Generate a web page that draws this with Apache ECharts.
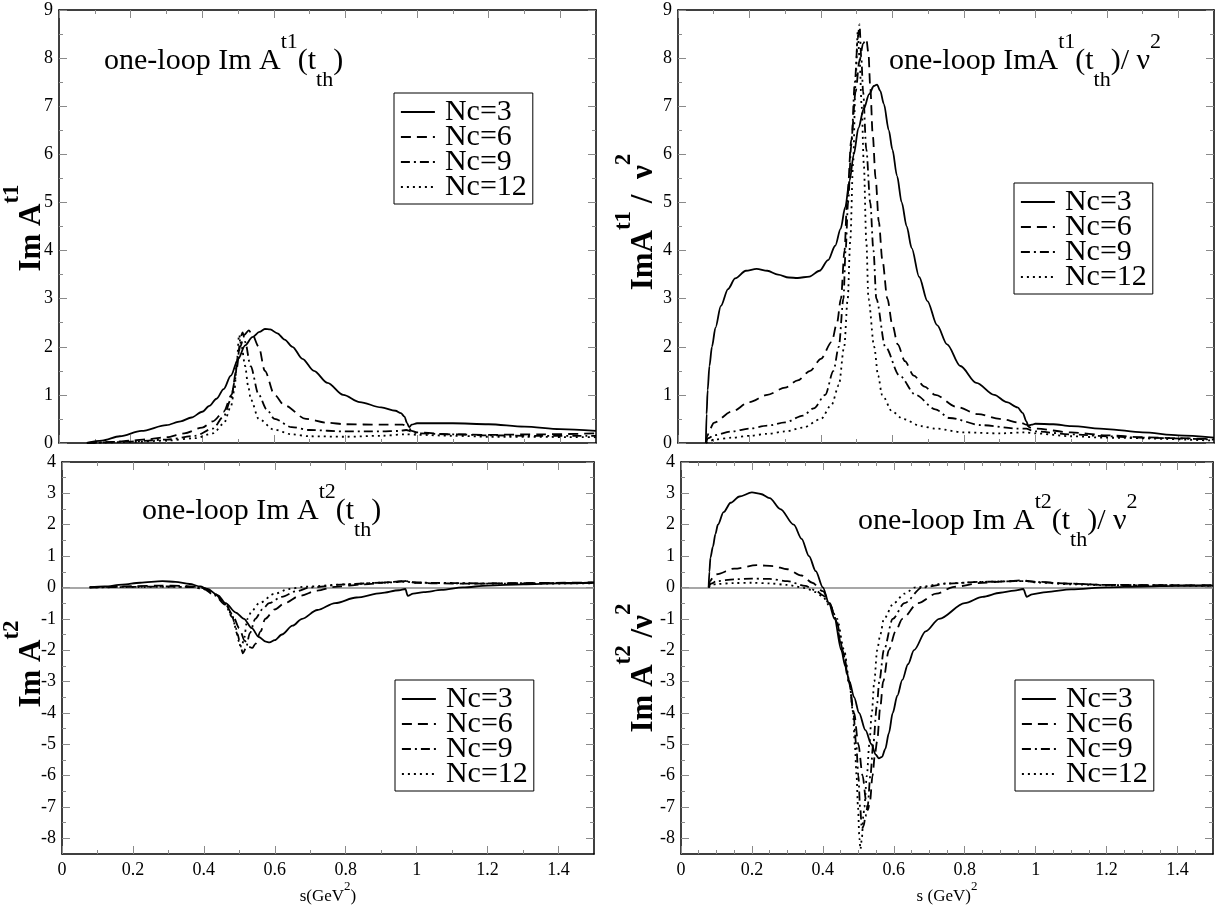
<!DOCTYPE html>
<html><head><meta charset="utf-8">
<script src="https://cdn.jsdelivr.net/npm/echarts@6/dist/echarts.min.js"></script>
<style>html,body{margin:0;padding:0;background:#fff}#c{width:1216px;height:905px}</style>
</head><body><div id="c"></div>
<script>
// ---------- data ----------
const seriesNames = ['Nc=3', 'Nc=6', 'Nc=9', 'Nc=12'];
const xTicks = [0, 0.2, 0.4, 0.6, 0.8, 1, 1.2, 1.4];
const xMinor10 = [0.1, 0.3, 0.5, 0.7, 0.9, 1.1, 1.3];
const xMinor05 = [0.05, 0.1, 0.15, 0.25, 0.3, 0.35, 0.45, 0.5, 0.55, 0.65, 0.7, 0.75, 0.85, 0.9, 0.95, 1.05, 1.1, 1.15, 1.25, 1.3, 1.35, 1.45];
const yTicksTop = [0, 1, 2, 3, 4, 5, 6, 7, 8, 9];
const yMinorTop = [0.5, 1.5, 2.5, 3.5, 4.5, 5.5, 6.5, 7.5, 8.5];
const yTicksBot = [-8, -7, -6, -5, -4, -3, -2, -1, 0, 1, 2, 3, 4];
const yMinorBot = [-7.5, -6.5, -5.5, -4.5, -3.5, -2.5, -1.5, -0.5, 0.5, 1.5, 2.5, 3.5];

// top-left: Im A^t1
const tl3 = [[0.078,0],[0.12,0.05],[0.17,0.14],[0.23,0.25],[0.3,0.37],[0.34,0.45],[0.37,0.53],[0.4,0.65],[0.42,0.77],[0.44,0.92],[0.46,1.12],[0.48,1.4],[0.5,1.74],[0.52,2.03],[0.54,2.2],[0.56,2.31],[0.575,2.37],[0.59,2.36],[0.61,2.28],[0.63,2.15],[0.652,2.0],[0.68,1.75],[0.712,1.5],[0.75,1.25],[0.794,1.0],[0.84,0.85],[0.9,0.74],[0.94,0.67],[0.955,0.62],[0.965,0.55],[0.972,0.42],[0.978,0.33],[0.985,0.38],[1.0,0.41],[1.1,0.41],[1.2,0.39],[1.3,0.34],[1.4,0.29],[1.5,0.25]];
const tl6 = [[0.078,0],[0.15,0.02],[0.2,0.05],[0.25,0.08],[0.3,0.12],[0.35,0.2],[0.4,0.32],[0.43,0.45],[0.46,0.65],[0.482,1.0],[0.495,1.5],[0.506,2.0],[0.518,2.25],[0.53,2.34],[0.54,2.25],[0.558,2.0],[0.575,1.5],[0.602,1.0],[0.63,0.78],[0.69,0.5],[0.75,0.42],[0.8,0.39],[0.9,0.38],[0.96,0.38],[0.975,0.33],[0.985,0.25],[1.0,0.22],[1.1,0.18],[1.2,0.17],[1.35,0.18],[1.5,0.2]];
const tl9 = [[0.078,0],[0.2,0.03],[0.3,0.07],[0.38,0.15],[0.43,0.3],[0.46,0.55],[0.48,0.9],[0.49,1.25],[0.5,1.8],[0.507,2.2],[0.513,2.3],[0.52,2.1],[0.535,1.6],[0.558,1.0],[0.58,0.7],[0.602,0.5],[0.65,0.33],[0.7,0.27],[0.8,0.24],[0.9,0.24],[0.95,0.25],[0.97,0.27],[0.985,0.24],[1.0,0.2],[1.1,0.18],[1.2,0.16],[1.3,0.15],[1.5,0.15]];
const tl12 = [[0.078,0],[0.2,0.02],[0.3,0.05],[0.38,0.1],[0.43,0.2],[0.46,0.4],[0.48,0.75],[0.49,1.1],[0.497,1.7],[0.503,2.25],[0.51,2.0],[0.52,1.6],[0.528,1.2],[0.536,0.9],[0.558,0.5],[0.6,0.28],[0.65,0.18],[0.7,0.14],[0.8,0.13],[0.9,0.15],[0.97,0.18],[1.0,0.17],[1.1,0.15],[1.2,0.13],[1.5,0.12]];

// top-right: Im A^t1 / nu^2
const tr3 = [[0.078,0],[0.08,0.6],[0.083,1.1],[0.088,1.6],[0.095,2.0],[0.105,2.4],[0.12,2.85],[0.14,3.2],[0.16,3.42],[0.19,3.58],[0.22,3.62],[0.25,3.58],[0.28,3.5],[0.31,3.44],[0.335,3.43],[0.368,3.46],[0.396,3.58],[0.42,3.8],[0.44,4.1],[0.455,4.45],[0.468,4.9],[0.48,5.45],[0.492,6.0],[0.505,6.55],[0.52,6.95],[0.535,7.25],[0.548,7.42],[0.557,7.45],[0.566,7.32],[0.576,7.05],[0.59,6.5],[0.6,6.1],[0.613,5.55],[0.626,5.0],[0.64,4.5],[0.654,4.05],[0.675,3.45],[0.698,2.95],[0.725,2.45],[0.753,2.05],[0.79,1.6],[0.835,1.25],[0.885,1.0],[0.92,0.85],[0.95,0.74],[0.965,0.62],[0.975,0.45],[0.98,0.36],[0.99,0.38],[1.0,0.4],[1.05,0.39],[1.1,0.35],[1.2,0.29],[1.3,0.22],[1.4,0.16],[1.5,0.11]];
const tr6 = [[0.078,0],[0.082,0.15],[0.09,0.3],[0.1,0.42],[0.15,0.65],[0.2,0.85],[0.25,1.0],[0.3,1.15],[0.335,1.3],[0.37,1.5],[0.4,1.75],[0.43,2.1],[0.445,2.5],[0.456,3.0],[0.466,4.0],[0.473,5.0],[0.485,6.3],[0.497,7.3],[0.508,7.95],[0.518,8.3],[0.527,8.4],[0.533,8.1],[0.538,7.4],[0.545,6.4],[0.553,5.5],[0.562,4.6],[0.572,3.8],[0.586,3.0],[0.6,2.45],[0.615,2.05],[0.635,1.7],[0.66,1.4],[0.69,1.17],[0.72,1.0],[0.78,0.75],[0.84,0.6],[0.9,0.5],[0.96,0.42],[0.975,0.38],[0.985,0.32],[1.0,0.3],[1.1,0.22],[1.2,0.16],[1.3,0.12],[1.4,0.1],[1.5,0.08]];
const tr9 = [[0.078,0],[0.085,0.1],[0.1,0.16],[0.15,0.24],[0.2,0.3],[0.25,0.36],[0.3,0.43],[0.35,0.57],[0.38,0.72],[0.412,1.0],[0.435,1.5],[0.45,2.0],[0.463,3.0],[0.469,4.0],[0.476,5.0],[0.485,6.2],[0.495,7.5],[0.503,8.4],[0.508,8.7],[0.513,8.0],[0.518,7.3],[0.527,6.1],[0.538,5.0],[0.547,4.0],[0.555,3.0],[0.58,2.0],[0.62,1.4],[0.665,1.0],[0.72,0.7],[0.76,0.52],[0.85,0.37],[0.95,0.3],[0.975,0.3],[0.99,0.26],[1.0,0.24],[1.1,0.18],[1.2,0.14],[1.3,0.11],[1.5,0.07]];
const tr12 = [[0.078,0],[0.09,0.04],[0.1,0.07],[0.15,0.11],[0.2,0.15],[0.25,0.19],[0.3,0.24],[0.35,0.32],[0.4,0.5],[0.43,0.8],[0.45,1.2],[0.465,2.0],[0.475,3.0],[0.482,4.2],[0.49,5.8],[0.497,7.5],[0.503,8.55],[0.508,8.0],[0.514,7.0],[0.52,5.8],[0.527,4.2],[0.533,3.0],[0.549,2.0],[0.56,1.4],[0.571,1.0],[0.6,0.65],[0.63,0.5],[0.68,0.35],[0.72,0.3],[0.8,0.22],[0.9,0.2],[0.97,0.22],[1.0,0.2],[1.1,0.14],[1.2,0.11],[1.5,0.05]];

// bottom-left: Im A^t2
const bl3 = [[0.078,0],[0.12,0.03],[0.17,0.09],[0.22,0.15],[0.283,0.2],[0.32,0.18],[0.36,0.11],[0.39,0.03],[0.41,-0.05],[0.44,-0.25],[0.461,-0.5],[0.49,-0.8],[0.513,-1.0],[0.535,-1.3],[0.555,-1.58],[0.575,-1.73],[0.585,-1.75],[0.6,-1.68],[0.62,-1.5],[0.65,-1.22],[0.677,-1.0],[0.72,-0.72],[0.77,-0.5],[0.83,-0.32],[0.9,-0.18],[0.95,-0.09],[0.968,-0.05],[0.975,-0.27],[0.99,-0.2],[1.02,-0.15],[1.07,-0.08],[1.13,0.0],[1.2,0.06],[1.3,0.1],[1.4,0.13],[1.5,0.15]];
const bl6 = [[0.078,0],[0.15,0.02],[0.2,0.04],[0.28,0.06],[0.34,0.05],[0.38,0.02],[0.4,-0.02],[0.43,-0.2],[0.46,-0.5],[0.48,-0.85],[0.5,-1.3],[0.515,-1.7],[0.528,-1.9],[0.537,-1.93],[0.545,-1.8],[0.56,-1.4],[0.573,-1.0],[0.6,-0.7],[0.628,-0.5],[0.67,-0.27],[0.72,-0.1],[0.77,0.02],[0.85,0.1],[0.93,0.17],[0.965,0.2],[0.975,0.22],[0.99,0.16],[1.05,0.13],[1.15,0.12],[1.3,0.14],[1.5,0.16]];
const bl9 = [[0.078,0],[0.2,0.02],[0.3,0.03],[0.37,0.01],[0.4,-0.05],[0.43,-0.25],[0.46,-0.55],[0.48,-0.95],[0.495,-1.5],[0.505,-1.95],[0.51,-2.1],[0.518,-1.95],[0.53,-1.45],[0.545,-1.0],[0.565,-0.7],[0.584,-0.5],[0.62,-0.3],[0.66,-0.12],[0.7,0.0],[0.8,0.1],[0.9,0.15],[0.97,0.2],[0.985,0.17],[1.0,0.15],[1.2,0.13],[1.5,0.15]];
const bl12 = [[0.078,0],[0.2,0.01],[0.3,0.02],[0.37,0.01],[0.4,-0.05],[0.43,-0.22],[0.46,-0.5],[0.48,-0.9],[0.49,-1.3],[0.5,-1.75],[0.506,-1.9],[0.512,-1.7],[0.523,-1.0],[0.535,-0.75],[0.556,-0.5],[0.6,-0.2],[0.64,-0.05],[0.68,0.02],[0.8,0.1],[0.9,0.15],[0.97,0.18],[1.0,0.15],[1.2,0.12],[1.5,0.13]];

// bottom-right: Im A^t2 / nu^2
const br3 = [[0.078,0],[0.08,0.5],[0.083,0.95],[0.09,1.3],[0.097,1.7],[0.104,2.0],[0.12,2.4],[0.14,2.7],[0.165,2.9],[0.2,3.03],[0.225,2.98],[0.25,2.85],[0.28,2.5],[0.318,2.0],[0.34,1.55],[0.361,1.0],[0.38,0.52],[0.4,0.0],[0.417,-0.5],[0.433,-1.0],[0.452,-2.0],[0.463,-2.5],[0.475,-3.0],[0.488,-3.5],[0.502,-4.0],[0.52,-4.55],[0.537,-5.0],[0.549,-5.33],[0.558,-5.45],[0.567,-5.4],[0.576,-5.15],[0.586,-4.65],[0.597,-4.0],[0.61,-3.45],[0.624,-2.95],[0.64,-2.45],[0.657,-2.0],[0.69,-1.4],[0.728,-1.0],[0.8,-0.5],[0.85,-0.3],[0.9,-0.17],[0.94,-0.1],[0.965,-0.05],[0.975,-0.3],[0.99,-0.22],[1.03,-0.15],[1.1,-0.06],[1.2,0.0],[1.3,0.03],[1.4,0.05],[1.5,0.06]];
const br6 = [[0.078,0],[0.082,0.2],[0.09,0.32],[0.1,0.42],[0.15,0.6],[0.214,0.71],[0.26,0.68],[0.3,0.58],[0.34,0.38],[0.37,0.15],[0.4,-0.12],[0.42,-0.5],[0.435,-1.0],[0.455,-2.0],[0.473,-3.0],[0.488,-4.0],[0.5,-5.0],[0.512,-6.0],[0.522,-6.8],[0.527,-7.1],[0.533,-6.8],[0.54,-6.0],[0.547,-5.3],[0.553,-4.9],[0.562,-3.8],[0.57,-3.0],[0.586,-2.0],[0.605,-1.4],[0.624,-1.0],[0.668,-0.5],[0.72,-0.2],[0.77,0.02],[0.85,0.15],[0.93,0.2],[0.965,0.23],[0.98,0.2],[1.0,0.18],[1.1,0.12],[1.2,0.08],[1.3,0.07],[1.5,0.07]];
const br9 = [[0.078,0],[0.085,0.12],[0.1,0.2],[0.15,0.26],[0.2,0.28],[0.25,0.27],[0.3,0.2],[0.35,0.05],[0.38,-0.1],[0.4,-0.25],[0.42,-0.55],[0.437,-1.0],[0.457,-2.0],[0.474,-3.0],[0.486,-4.0],[0.494,-5.0],[0.5,-6.0],[0.505,-7.0],[0.51,-7.7],[0.515,-7.6],[0.52,-7.3],[0.526,-7.0],[0.534,-6.0],[0.542,-5.0],[0.552,-3.8],[0.559,-3.0],[0.572,-2.0],[0.597,-1.0],[0.63,-0.5],[0.68,0.0],[0.75,0.12],[0.85,0.18],[0.95,0.2],[0.975,0.2],[1.0,0.17],[1.1,0.12],[1.2,0.08],[1.5,0.06]];
const br12 = [[0.078,0],[0.085,0.08],[0.1,0.11],[0.15,0.14],[0.2,0.15],[0.25,0.13],[0.3,0.08],[0.35,-0.02],[0.38,-0.15],[0.4,-0.3],[0.42,-0.6],[0.44,-1.0],[0.46,-2.0],[0.475,-3.0],[0.485,-4.0],[0.49,-5.0],[0.495,-6.0],[0.499,-7.0],[0.503,-8.0],[0.506,-8.35],[0.51,-8.0],[0.514,-7.3],[0.517,-7.0],[0.524,-6.0],[0.531,-5.0],[0.538,-4.0],[0.545,-3.0],[0.553,-2.0],[0.562,-1.5],[0.572,-1.0],[0.6,-0.5],[0.63,-0.2],[0.66,0.0],[0.75,0.13],[0.85,0.18],[0.95,0.2],[0.975,0.2],[1.0,0.16],[1.1,0.1],[1.2,0.07],[1.5,0.05]];

// ---------- styles / layout ----------
const FF = '"Liberation Serif", "Times New Roman", serif';
const lineTypes = [
  {type: 'solid', width: 1.8},
  {type: [10, 6], width: 1.8},
  {type: [9, 4, 2, 4], width: 1.8},
  {type: [2, 4], width: 1.8}
];
function rich(F, w) {
  return {
    n:   {fontFamily: FF, fontSize: F, fontWeight: w, lineHeight: Math.round(2 * F), color: '#000'},
    sup: {fontFamily: FF, fontSize: Math.round(F * 0.74), fontWeight: w, lineHeight: Math.round(F * 0.67), verticalAlign: 'top', color: '#000'},
    sub: {fontFamily: FF, fontSize: Math.round(F * 0.74), fontWeight: w, lineHeight: Math.round(F * 1.17), verticalAlign: 'bottom', color: '#000'}
  };
}
const panels = [
  {grid: {left: 59, top: 10, width: 537, height: 433}, ymin: 0, ymax: 9, yT: yTicksTop, yM: yMinorTop, xM: xMinor10, xLab: false,
   data: [tl3, tl6, tl9, tl12], zero: false, xName: '',
   yName: {x: 32, y: 228, text: '{n|Im A}{sup|t1}'},
   legend: {left: 394, top: 93},
   title: {left: 104, top: 31, text: '{n|one-loop Im A}{sup|t1}{n|(t}{sub|th}{n|)}'}},
  {grid: {left: 678, top: 10, width: 536, height: 433}, ymin: 0, ymax: 9, yT: yTicksTop, yM: yMinorTop, xM: xMinor10, xLab: false,
   data: [tr3, tr6, tr9, tr12], zero: false, xName: '',
   yName: {x: 644, y: 222, text: '{n|ImA}{sup|t1}{n| /  ν}{sup|2}'},
   legend: {left: 1014, top: 183},
   title: {left: 889, top: 31, text: '{n|one-loop ImA}{sup|t1}{n|(t}{sub|th}{n|)/ ν}{sup|2}'}},
  {grid: {left: 62, top: 462, width: 532, height: 392}, ymin: -8.5, ymax: 4, yT: yTicksBot, yM: yMinorBot, xM: xMinor10, xLab: true,
   data: [bl3, bl6, bl9, bl12], zero: true, xName: '{n|s(GeV}{sup|2}{n|)}',
   yName: {x: 32, y: 664, text: '{n|Im A}{sup|t2}'},
   legend: {left: 395, top: 680},
   title: {left: 142, top: 481, text: '{n|one-loop Im A}{sup|t2}{n|(t}{sub|th}{n|)}'}},
  {grid: {left: 681, top: 462, width: 532, height: 392}, ymin: -8.5, ymax: 4, yT: yTicksBot, yM: yMinorBot, xM: xMinor05, xLab: true,
   data: [br3, br6, br9, br12], zero: true, xName: '{n|s (GeV)}{sup|2}',
   yName: {x: 644, y: 668, text: '{n|Im A}{sup|t2}{n| /ν}{sup|2}'},
   legend: {left: 1015, top: 680},
   title: {left: 858, top: 491, text: '{n|one-loop Im A}{sup|t2}{n|(t}{sub|th}{n|)/ ν}{sup|2}'}}
];

const tickStyle = {color: '#8a8a8a', width: 1};
const axisLineStyle = {color: '#000', width: 1.5};
const grids = [], xAxes = [], yAxes = [], series = [], legends = [], graphics = [];
const fmt = v => String(Math.round(v * 10) / 10);

panels.forEach((p, g) => {
  grids.push(Object.assign({outerBoundsMode: 'none', containLabel: false}, p.grid));
  const xb = {type: 'value', gridIndex: g, min: 0, max: 1.5, splitLine: {show: false}, minorTick: {show: false}};
  xAxes.push(Object.assign({}, xb, {
    position: 'bottom', axisLine: {show: true, onZero: false, lineStyle: axisLineStyle},
    axisTick: {show: true, inside: true, length: 8, customValues: xTicks, lineStyle: tickStyle},
    axisLabel: {show: p.xLab, customValues: xTicks, formatter: fmt, margin: 7, fontFamily: FF, fontSize: 18, color: '#000'},
    name: p.xName, nameLocation: 'middle', nameGap: 22,
    nameTextStyle: {fontFamily: FF, fontSize: 17, color: '#000', rich: rich(17, 'normal')}
  }));
  xAxes.push(Object.assign({}, xb, {
    position: 'bottom', axisLine: {show: false, onZero: false},
    axisTick: {show: true, inside: true, length: 4, customValues: p.xM, lineStyle: tickStyle}, axisLabel: {show: false}
  }));
  xAxes.push(Object.assign({}, xb, {
    position: 'top', axisLine: {show: true, onZero: false, lineStyle: axisLineStyle},
    axisTick: {show: true, inside: true, length: 8, customValues: xTicks, lineStyle: tickStyle}, axisLabel: {show: false}
  }));
  xAxes.push(Object.assign({}, xb, {
    position: 'top', axisLine: {show: false, onZero: false},
    axisTick: {show: true, inside: true, length: 4, customValues: p.xM, lineStyle: tickStyle}, axisLabel: {show: false}
  }));
  const yb = {type: 'value', gridIndex: g, min: p.ymin, max: p.ymax, splitLine: {show: false}, minorTick: {show: false}};
  yAxes.push(Object.assign({}, yb, {
    position: 'left', axisLine: {show: true, onZero: false, lineStyle: axisLineStyle},
    axisTick: {show: true, inside: true, length: 8, customValues: p.yT, lineStyle: tickStyle},
    axisLabel: {show: true, customValues: p.yT, formatter: fmt, margin: 6, fontFamily: FF, fontSize: 18, color: '#000'}
  }));
  yAxes.push(Object.assign({}, yb, {
    position: 'left', axisLine: {show: false, onZero: false},
    axisTick: {show: true, inside: true, length: 4, customValues: p.yM, lineStyle: tickStyle}, axisLabel: {show: false}
  }));
  yAxes.push(Object.assign({}, yb, {
    position: 'right', axisLine: {show: true, onZero: false, lineStyle: axisLineStyle},
    axisTick: {show: true, inside: true, length: 8, customValues: p.yT, lineStyle: tickStyle}, axisLabel: {show: false}
  }));
  yAxes.push(Object.assign({}, yb, {
    position: 'right', axisLine: {show: false, onZero: false},
    axisTick: {show: true, inside: true, length: 4, customValues: p.yM, lineStyle: tickStyle}, axisLabel: {show: false}
  }));

  p.data.forEach((d, k) => {
    const s = {
      type: 'line', name: seriesNames[k], data: d, xAxisIndex: g * 4, yAxisIndex: g * 4,
      symbol: 'none', showSymbol: false, smooth: 0.3, smoothMonotone: 'x', clip: true,
      lineStyle: Object.assign({color: '#000'}, lineTypes[k]), itemStyle: {color: '#000'}, z: 3
    };
    if (p.zero && k === 0) {
      s.markLine = {silent: true, symbol: 'none', label: {show: false}, animation: false, z: 1,
        lineStyle: {color: '#8a8a8a', type: 'solid', width: 1.5}, data: [{yAxis: 0}]};
    }
    series.push(s);
  });

  legends.push({
    data: seriesNames, orient: 'vertical', left: p.legend.left, top: p.legend.top,
    itemWidth: 34, itemHeight: 14, itemGap: -5, selectedMode: false,
    padding: [4, 6, 2, 6], borderColor: '#000', borderWidth: 1, borderRadius: 0, backgroundColor: '#fff',
    textStyle: {fontFamily: FF, fontSize: 30, color: '#000', padding: [0, 0, 0, 5]},
    itemStyle: {color: 'rgba(0,0,0,0)', borderWidth: 0, opacity: 0},
    lineStyle: {type: 'inherit', width: 1.8, opacity: 1}
  });

  graphics.push({
    type: 'text', left: p.title.left, top: p.title.top, z: 10,
    style: {text: p.title.text, rich: rich(30, 'normal'), fill: '#000'}
  });
  graphics.push({
    type: 'text', x: p.yName.x, y: p.yName.y, rotation: Math.PI / 2, z: 10,
    style: {text: p.yName.text, rich: rich(31, 'bold'), fill: '#000', align: 'center', verticalAlign: 'middle'}
  });
});

const chart = echarts.init(document.getElementById('c'), null, {renderer: 'canvas'});
chart.setOption({
  animation: false,
  backgroundColor: '#fff',
  grid: grids, xAxis: xAxes, yAxis: yAxes, series: series, legend: legends, graphic: graphics,
  tooltip: {show: false}
});
</script>
</body></html>
